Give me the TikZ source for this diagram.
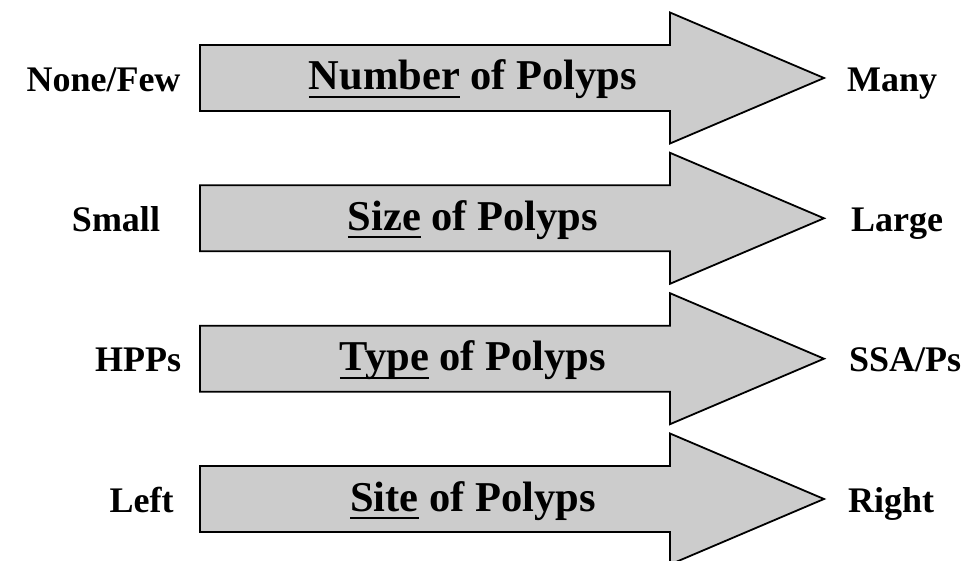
\documentclass[tikz,border=0pt]{standalone}
\usepackage{fontspec}
\setmainfont{Liberation Serif}
\newcommand\myul[1]{\setbox0\hbox{#1}\rlap{\rule[-8pt]{\wd0}{2pt}}\box0\relax}
\tikzset{
  bigarrow/.style={draw=black, fill=arrowgray, line width=1.8pt, line join=miter},
  midtext/.style={anchor=base, inner sep=0pt, font=\fontsize{42.5}{48}\selectfont\bfseries},
  lefttext/.style={anchor=base, inner sep=0pt, font=\fontsize{36}{40}\selectfont\bfseries},
  righttext/.style={anchor=base west, inner sep=0pt, font=\fontsize{36}{40}\selectfont\bfseries}
}
\definecolor{arrowgray}{RGB}{204,204,204}
\begin{document}
\begin{tikzpicture}[x=1pt,y=-1pt]
\useasboundingbox (0,0) rectangle (968,561);
\foreach \c in {78,218.3,358.7,499}{
  \path[bigarrow] (200,\c-33) -- (670,\c-33) -- (670,\c-65.5) -- (824,\c)
     -- (670,\c+65.5) -- (670,\c+33) -- (200,\c+33) -- cycle;
}
% arrow 1
\node[midtext] (m1) at (473,90) {\myul{Number} of Polyps};
\node[lefttext] (l1) at (103.5,92) {None/Few};
\node[righttext] (r1) at (847,92) {Many};
% arrow 2
\node[midtext] (m2) at (473,230.3) {\myul{Size} of Polyps};
\node[lefttext] (l2) at (116,231.3) {Small};
\node[righttext] (r2) at (851,231.3) {Large};
% arrow 3
\node[midtext] (m3) at (473,370.7) {\myul{Type} of Polyps};
\node[lefttext] (l3) at (138,371.7) {HPPs};
\node[righttext] (r3) at (849,371.7) {SSA/Ps};
% arrow 4
\node[midtext] (m4) at (473,511) {\myul{Site} of Polyps};
\node[lefttext] (l4) at (141.5,512) {Left};
\node[righttext] (r4) at (848,512) {Right};
\end{tikzpicture}
\end{document}
